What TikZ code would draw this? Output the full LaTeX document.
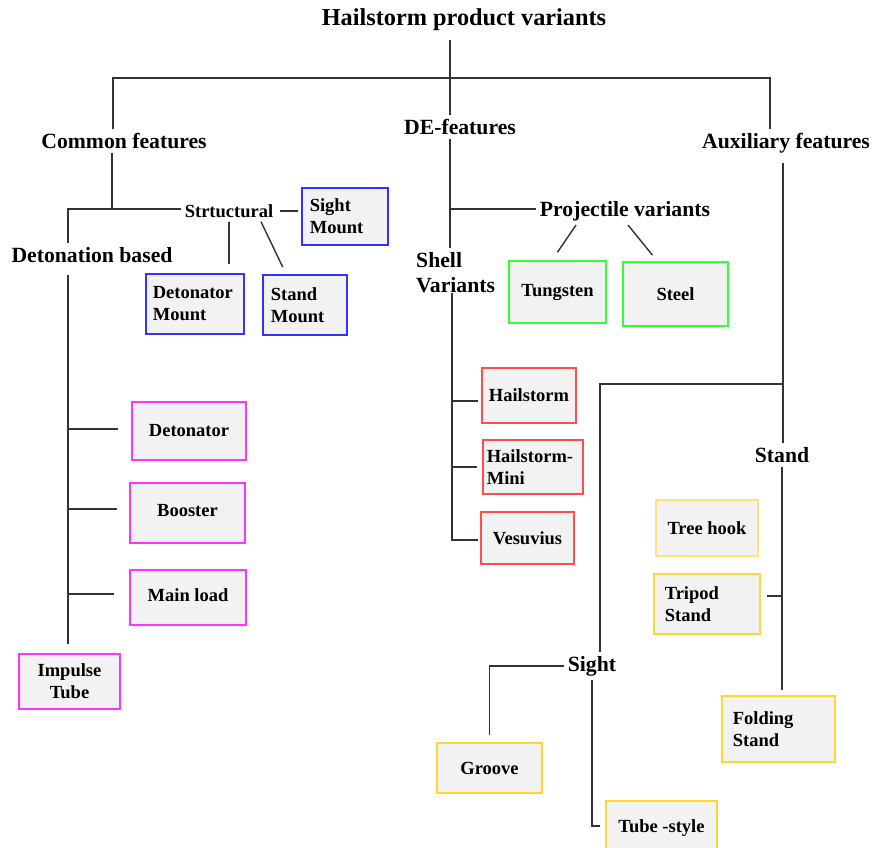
\documentclass[tikz,border=0pt]{standalone}
\usepackage{fontspec}
\setmainfont{Liberation Serif}
\usetikzlibrary{calc}
\definecolor{cblue}{HTML}{3333FF}
\definecolor{cmag}{HTML}{FF33FF}
\definecolor{cred}{HTML}{FF4D4D}
\definecolor{cgreen}{HTML}{33FF33}
\definecolor{cyel}{HTML}{FFD633}
\definecolor{cpale}{HTML}{FFE27A}
\definecolor{cfill}{HTML}{F2F2F2}
\definecolor{cline}{HTML}{333333}
\tikzset{
  conn/.style={draw=cline, line width=1.4pt},
  lbl/.style={inner sep=4pt, font=\bfseries\fontsize{21.7}{25}\selectfont, align=left},
  slbl/.style={inner sep=4pt, font=\bfseries\fontsize{18.5}{22}\selectfont},
  box/.style={draw=#1, fill=cfill, line width=1.6pt, font=\bfseries\fontsize{18.5}{22}\selectfont, align=center, inner sep=0pt},
  lbox/.style={draw=#1, fill=cfill, line width=1.6pt, font=\bfseries\fontsize{18.5}{22}\selectfont, align=left, inner ysep=0pt, anchor=west},
}
\begin{document}
\begin{tikzpicture}[x=1pt, y=-1pt]
\clip (0,0) rectangle (874,847);
\fill[white] (0,0) rectangle (874,847);

% labels
\node[lbl, font=\bfseries\fontsize{24.3}{28}\selectfont] (title) at (464,20) {Hailstorm product variants};
\node[lbl] (common) at (124,141) {Common features};
\node[lbl] (detbased) at (92,255) {Detonation based};
\node[slbl] (struct) at (229,211) {Strtuctural};
\node[lbl] (defeat) at (460,127) {DE-features};
\node[lbl] (proj) at (625,211) {Projectile variants};
\node[lbl] (aux) at (786,143) {Auxiliary features};
\node[lbl, anchor=west, inner sep=0pt] (shell) at (416,273) {Shell\\Variants};
\node[lbl] (stand) at (782,455) {Stand};
\node[lbl] (sight) at (592,666) {Sight};

% boxes
\node[lbox=cblue, text width=70pt, inner xsep=8pt, minimum height=57pt] (sightmount) at (301,216.5) {Sight\\Mount};
\node[lbox=cblue, text width=84pt, inner xsep=7pt, minimum height=60pt] (detmount) at (145,304) {Detonator\\Mount};
\node[lbox=cblue, text width=68pt, inner xsep=8pt, minimum height=60pt] (standmount) at (262,305) {Stand\\Mount};

\node[box=cmag, minimum width=114pt, minimum height=58pt] (detonator) at (189,431) {Detonator};
\node[box=cmag, minimum width=115pt, minimum height=60pt] (booster) at (187.5,513) {\raisebox{5pt}{Booster}};
\node[box=cmag, minimum width=116pt, minimum height=55pt] (mainload) at (188,597.5) {\raisebox{4pt}{Main load}};
\node[box=cmag, minimum width=101pt, minimum height=55pt] (impulse) at (69.5,681.5) {Impulse\\Tube};

\node[box=cgreen, minimum width=97pt, minimum height=62pt] (tungsten) at (557.5,292) {Tungsten};
\node[box=cgreen, minimum width=105pt, minimum height=64pt] (steel) at (675.5,294) {Steel};

\node[box=cred, minimum width=94pt, minimum height=55pt] (hailstorm) at (529,395.5) {Hailstorm};
\node[lbox=cred, text width=92pt, inner xsep=4pt, minimum height=54pt] (hmini) at (482,467) {Hailstorm-\\Mini};
\node[box=cred, minimum width=93pt, minimum height=52pt] (vesuvius) at (527.5,538) {Vesuvius};

\node[box=cpale, minimum width=102pt, minimum height=56pt] (treehook) at (707,528) {Tree hook};
\node[lbox=cyel, text width=84pt, inner xsep=11pt, minimum height=60pt] (tripod) at (653,604) {Tripod\\Stand};
\node[lbox=cyel, text width=91pt, inner xsep=11pt, minimum height=66pt] (folding) at (721,729) {Folding\\Stand};
\node[box=cyel, minimum width=105pt, minimum height=50pt] (groove) at (489.5,768) {Groove};
\node[box=cyel, minimum width=111pt, minimum height=54pt] (tube) at (661.5,828) {\raisebox{2pt}{Tube -style}};

% junctions
\coordinate (jTop) at (450,78);
\coordinate (jL) at (113,78);
\coordinate (jR) at (770,78);
\coordinate (jC) at (112,209);
\coordinate (jD) at (68,209);
\coordinate (jP) at (450,209);
\coordinate (jS) at (452,300);
\coordinate (jA) at (783,384);
\coordinate (jSi) at (600,384);

% connectors
\draw[conn, shorten <=5pt] (title.south -| jTop) -- (defeat.north -| jTop);
\draw[conn] (common.north -| jL) -- (jL) -- (jR) -- (aux.north -| jR);
\draw[conn] (common.south -| jC) -- (jC);
\draw[conn] (detbased.north -| jD) -- (jD) -- (struct.west |- jD);
\draw[conn, shorten <=3pt, shorten >=3pt] (struct.east) -- (sightmount.west |- struct.east);
\draw[conn, shorten >=9pt] (struct.south) -- (detmount.north -| struct.south);
\draw[conn] ($(struct.south)+(32,0)$) -- ($(standmount.north)+(-22,-7)$);

\draw[conn, shorten <=8pt, shorten >=9pt] (detbased.south -| jD) -- (impulse.north -| jD);
\draw[conn] ($(detonator.west -| jD)+(0,-2)$) -- ($(detonator.west)+(-13,-2)$);
\draw[conn] ($(booster.west -| jD)+(0,-4)$) -- ($(booster.west)+(-12,-4)$);
\draw[conn] ($(mainload.west -| jD)+(0,-3.5)$) -- ($(mainload.west)+(-15,-3.5)$);

\draw[conn, shorten >=5pt] (defeat.south -| jTop) -- (shell.north -| jTop);
\draw[conn] (jP) -- (proj.west |- jP);
\draw[conn] ($(proj.south)+(-49,0)$) -- ($(tungsten.north)+(0,-8)$);
\draw[conn] ($(proj.south)+(3,0)$) -- ($(steel.north)+(-23,-6)$);

\draw[conn] (shell.south -| jS) -- ($(vesuvius.west -| jS)+(0,2)$) -- ($(vesuvius.west)+(-2,2)$);
\draw[conn] ($(hailstorm.west -| jS)+(0,5.5)$) -- ($(hailstorm.west)+(-3,5.5)$);
\draw[conn] (hmini.west -| jS) -- ($(hmini.west)+(-5,0)$);

\draw[conn, shorten <=6pt] (aux.south -| jA) -- (stand.north -| jA);
\draw[conn] (jA) -- (jSi) -- (sight.north -| jSi);
\draw[conn, shorten >=5pt] (stand.south) -- (folding.north -| stand.south);
\coordinate (jT) at ($(tripod.east)+(6,-8)$);
\draw[conn] (jT) -- (jT -| stand.south);

\draw[conn] (sight.west) -| ($(groove.north)+(0,-7)$);
\draw[conn] (sight.south) |- ($(tube.west)+(-5,-2)$);
\end{tikzpicture}
\end{document}
